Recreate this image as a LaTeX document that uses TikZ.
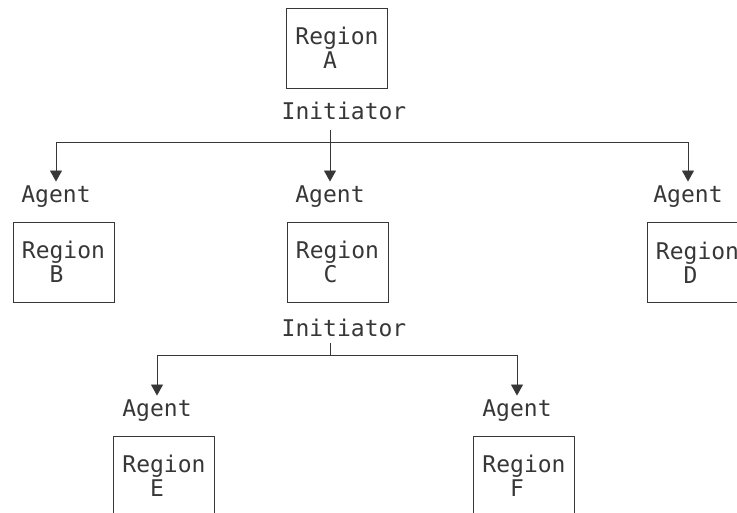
\documentclass[tikz,border=0pt]{standalone}
\usepackage{fontspec}
\setmonofont{DejaVu Sans Mono}
\usepackage{tikz}
\usetikzlibrary{arrows.meta, positioning, calc}
\definecolor{inkgray}{RGB}{55, 55, 55}
\tikzset{
    regionbox/.style={draw=inkgray, rectangle, line width=0.8pt, minimum width=101pt, minimum height=80pt, inner sep=0pt, align=left, text=inkgray, font=\ttfamily\fontsize{23}{24}\selectfont},
    rolelabel/.style={anchor=base, inner xsep=0pt, inner ysep=3.5pt, text=inkgray, font=\ttfamily\fontsize{23}{24}\selectfont},
    busline/.style={draw=inkgray, line width=0.8pt},
    callarrow/.style={busline, -{Triangle[length=11pt, width=12pt]}},
}
\newcommand{\regname}[1]{Region\\\phantom{Re}#1}

\begin{document}
\begin{tikzpicture}[x=1pt, y=-1pt]
                    \useasboundingbox (0,0) rectangle (737,512);
                    \clip (0,0) rectangle (737,512);

                    % Region A, the first initiator
                    \node[regionbox] (regA) at (337, 48) {\regname{A}};
                    \node[rolelabel] (initA) at (344, 119) {Initiator};

                    % Agents under A
                    \node[rolelabel] (agentB) at (56, 202) {Agent};
                    \node[rolelabel] (agentC) at (330, 202) {Agent};
                    \node[rolelabel] (agentD) at (688, 202) {Agent};

                    \node[regionbox] (regB) at (63.5, 262) {\regname{B}};
                    \node[regionbox] (regC) at (337.5, 262) {\regname{C}};
                    \node[regionbox] (regD) at (697.5, 262.5) {\regname{D}};

                    % Region C, the second initiator
                    \node[rolelabel] (initC) at (344, 336) {Initiator};

                    % Agents under C
                    \node[rolelabel] (agentE) at (157, 416) {Agent};
                    \node[rolelabel] (agentF) at (517, 416) {Agent};

                    \node[regionbox] (regE) at (164, 476) {\regname{E}};
                    \node[regionbox] (regF) at (524, 476) {\regname{F}};

                    % Bus lines
                    \coordinate (tapA) at (330, 130);
                    \coordinate (busA) at (330, 142);
                    \coordinate (tapC) at (330, 343);
                    \coordinate (busC) at (330, 355);

                    \draw[busline] (tapA) -- (busA);
                    \draw[busline] (busA -| agentB) -- (busA -| agentD);
                    \foreach \a in {agentB, agentC, agentD}
                        \draw[callarrow] (busA -| \a) -- (\a.north);

                    \draw[busline] (tapC) -- (busC);
                    \draw[busline] (busC -| agentE) -- (busC -| agentF);
                    \foreach \a in {agentE, agentF}
                        \draw[callarrow] (busC -| \a) -- (\a.north);
                \end{tikzpicture}
\end{document}
